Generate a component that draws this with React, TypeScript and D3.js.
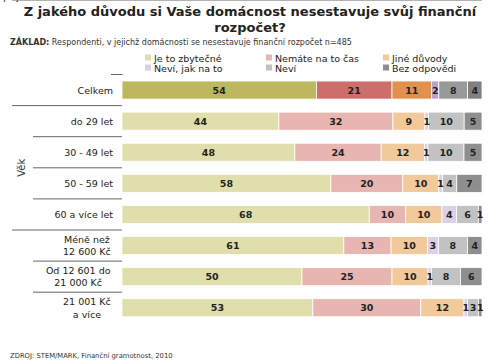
import * as d3 from "d3";

// row labels (multi-line rows split by "|")
const rowLabels = [
  "Celkem",
  "do 29 let",
  "30 - 49 let",
  "50 - 59 let",
  "60 a více let",
  "Méně než|12 600 Kč",
  "Od 12 601 do|21 000 Kč",
  "21 001 Kč|a více",
];

const seriesNames = [
  "Je to zbytečné",
  "Nemáte na to čas",
  "Jiné důvody",
  "Neví, jak na to",
  "Neví",
  "Bez odpovědi",
];

const zbytecne = [54, 44, 48, 58, 68, 61, 50, 53];
const nemateCas = [21, 32, 24, 20, 10, 13, 25, 30];
const jineDuvody = [11, 9, 12, 10, 10, 10, 10, 12];
const neviJak = [2, 1, 1, 1, 4, 3, 1, 1];
const nevi = [8, 10, 10, 4, 6, 8, 8, 3];
const bezOdpovedi = [4, 5, 5, 7, 1, 4, 6, 1];

const xTicks = [0, 10, 20, 30, 40, 50, 60, 70, 80, 90, 100];

const lightColors = ["#e0dfab", "#e8b6b1", "#f1c99b", "#ddd0e6", "#c2c2c2", "#8e8e8e"];
const darkColors = ["#bdb75d", "#cd6e6b", "#e0914d", "#b9a2c9", "#999999", "#808080"];

const FONT = "'DejaVu Sans', Verdana, sans-serif";

export default function App() {
  const width = 500;
  const height = 364;
  const series = [zbytecne, nemateCas, jineDuvody, neviJak, nevi, bezOdpovedi];

  const x = d3.scaleLinear().domain([0, 100]).range([122, 482]);
  const y = d3
    .scaleBand<number>()
    .domain(rowLabels.map((_, i) => i))
    .range([74.5, 323.3])
    .paddingInner(0.42)
    .paddingOuter(0.21);
  const step = y.step();

  // stacked segments, scaled so each row fills 100 %
  const segments = rowLabels.flatMap((_, r) => {
    const total = d3.sum(series, (s) => s[r]);
    let acc = 0;
    return series.map((s, k) => {
      const x0 = (acc / total) * 100;
      acc += s[r];
      const x1 = (acc / total) * 100;
      return { r, k, v: s[r], x0, x1 };
    });
  });

  const rowTop = (i: number) => (y(i) as number) - (step - y.bandwidth()) / 2;
  const axisY = rowTop(rowLabels.length);

  // separators on the left: long ones close a group, short ones split rows inside a group
  const seps = [
    { i: 1, x0: 12 },
    { i: 2, x0: 33 },
    { i: 3, x0: 33 },
    { i: 4, x0: 33 },
    { i: 5, x0: 12 },
    { i: 6, x0: 33 },
    { i: 7, x0: 33 },
  ];

  const legendX = [145, 266, 383];

  return (
    <svg
      width={width}
      height={height}
      style={{ position: "absolute", left: 0, top: 0, display: "block" }}
      fontFamily={FONT}
    >
      <rect width={width} height={height} fill="#fff" />
      <text x={250} y={16} textAnchor="middle" fontSize={13} fontWeight="bold" fill="#222">
        Z jakého důvodu si Vaše domácnost nesestavuje svůj finanční
      </text>
      <text x={250} y={32} textAnchor="middle" fontSize={13} fontWeight="bold" fill="#222">
        rozpočet?
      </text>
      <text x={10} y={45} fontSize={8} fill="#333">
        <tspan fontWeight="bold">ZÁKLAD:</tspan>
        <tspan> Respondenti, v jejichž domácnosti se nesestavuje finanční rozpočet n=485</tspan>
      </text>

      {seriesNames.map((name, k) => {
        const lx = legendX[k % 3];
        const ly = k < 3 ? 58 : 68;
        return (
          <g key={name}>
            <rect x={lx} y={ly - 3.5} width={6} height={6} fill={lightColors[k]} />
            <text x={lx + 9} y={ly + 3.5} fontSize={9.5} fill="#222">
              {name}
            </text>
          </g>
        );
      })}

      {segments.map((d) => (
        <rect
          key={`${d.r}-${d.k}`}
          x={x(d.x0)}
          y={y(d.r)}
          width={Math.max(0, x(d.x1) - x(d.x0))}
          height={y.bandwidth()}
          fill={d.r === 0 ? darkColors[d.k] : lightColors[d.k]}
          stroke="#fff"
          strokeWidth={0.8}
        />
      ))}
      {segments.map((d) => (
        <text
          key={`t${d.r}-${d.k}`}
          x={(x(d.x0) + x(d.x1)) / 2}
          y={(y(d.r) as number) + y.bandwidth() / 2 + 3.5}
          textAnchor="middle"
          fontSize={9.5}
          fontWeight="bold"
          fill="#222"
        >
          {d.v}
        </text>
      ))}

      {rowLabels.map((label, i) => {
        const lines = label.split("|");
        const cy = (y(i) as number) + y.bandwidth() / 2;
        if (lines.length === 1) {
          return (
            <text key={label} x={113} y={cy + 3.5} textAnchor="end" fontSize={9.5} fill="#222">
              {label}
            </text>
          );
        }
        const longest = d3.max(lines, (l) => l.length) as number;
        const cx = 113 - longest * 2.9;
        return lines.map((l, j) => (
          <text
            key={l}
            x={cx}
            y={cy + 3.5 + (j - (lines.length - 1) / 2) * 12.5}
            textAnchor="middle"
            fontSize={9.5}
            fill="#222"
          >
            {l}
          </text>
        ));
      })}

      <text
        transform={`translate(25,${(rowTop(1) + rowTop(5)) / 2}) rotate(-90)`}
        textAnchor="middle"
        fontSize={10}
        fill="#333"
      >
        Věk
      </text>
      <text
        transform={`translate(25,${(rowTop(5) + rowTop(8)) / 2}) rotate(-90)`}
        textAnchor="middle"
        fontSize={10}
        fill="#333"
      >
        Osobní příjem
      </text>

      {seps.map((s) => (
        <line key={s.i} x1={s.x0} x2={122} y1={rowTop(s.i)} y2={rowTop(s.i)} stroke="#666" strokeWidth={1} />
      ))}
      <path d={`M111,74.5H122.5V${axisY}`} fill="none" stroke="#666" strokeWidth={1} />
      <line x1={12} x2={482} y1={axisY} y2={axisY} stroke="#666" strokeWidth={1} />
      {xTicks.map((t) => (
        <g key={t}>
          <line x1={x(t)} x2={x(t)} y1={axisY} y2={axisY + 3} stroke="#666" />
          <text x={x(t)} y={axisY + 17} textAnchor="middle" fontSize={8} fill="#444">
            {t}%
          </text>
        </g>
      ))}

      <text x={10} y={358} fontSize={6.8} fill="#333">
        ZDROJ: STEM/MARK, Finanční gramotnost, 2010
      </text>
    </svg>
  );
}
